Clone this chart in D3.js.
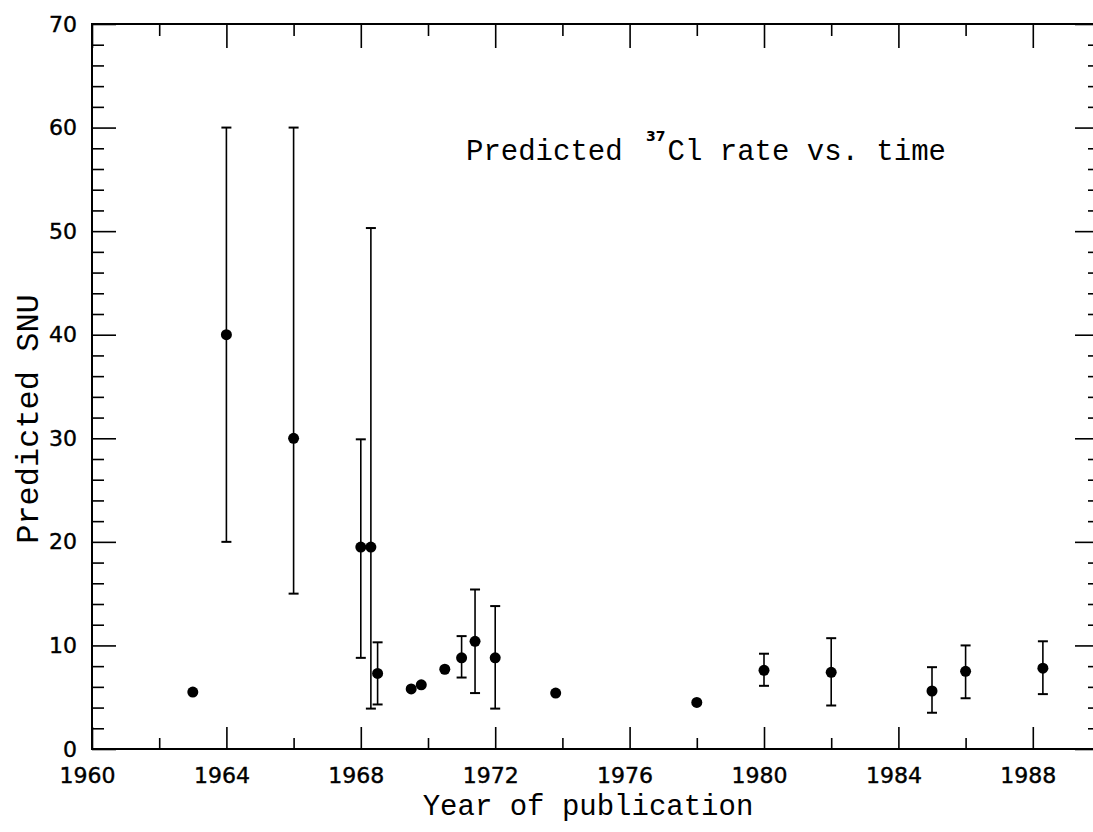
<!DOCTYPE html>
<html>
<head>
<meta charset="utf-8">
<script src="https://cdn.jsdelivr.net/npm/d3@7"></script>
<style>
    body { margin: 0; background: #fff; }
    svg { display: block; }
</style>
</head>
<body>
<div class="snu_chart"></div>
<script>
// publication year of each prediction
var years = [1963.0, 1964.0, 1966.0, 1968.0, 1968.3, 1968.5, 1969.5, 1969.8, 1970.5, 1971.0, 1971.4, 1972.0, 1973.8, 1978.0, 1980.0, 1982.0, 1985.0, 1986.0, 1988.3];
// predicted rate (SNU)
var snu = [5.5, 40, 30, 19.5, 19.5, 7.3, 5.8, 6.2, 7.7, 8.8, 10.4, 8.8, 5.4, 4.5, 7.6, 7.4, 5.6, 7.5, 7.8];
// error bar ends, null where the point has none
var errLow = [null, 20, 15, 8.8, 3.9, 4.3, null, null, null, 6.9, 5.4, 3.9, null, null, 6.1, 4.2, 3.5, 4.9, 5.3];
var errHigh = [null, 60, 60, 29.9, 50.3, 10.3, null, null, null, 10.9, 15.4, 13.8, null, null, 9.2, 10.7, 7.9, 10.0, 10.4];

var xMajor = [1960, 1964, 1968, 1972, 1976, 1980, 1984, 1988];
var xMinor = [1962, 1966, 1970, 1974, 1978, 1982, 1986];
var yMajor = [0, 10, 20, 30, 40, 50, 60, 70];
var yMinor = [2, 4, 6, 8, 12, 14, 16, 18, 22, 24, 26, 28, 32, 34, 36, 38, 42, 44, 46, 48, 52, 54, 56, 58, 62, 64, 66, 68];

var div_width = 1093;
var div_height = 832;
var pLeft = 92, pRight = 1100, pTop = 24, pBottom = 749;

var x = d3.scaleLinear().domain([1960, 1990]).range([pLeft, pRight]);
var y = d3.scaleLinear().domain([0, 70]).range([pBottom, pTop]);

var svg = d3.select(".snu_chart").append("svg")
    .attr("width", div_width)
    .attr("height", div_height);

// frame
svg.append("rect")
    .attr("x", pLeft)
    .attr("y", pTop)
    .attr("width", pRight - pLeft)
    .attr("height", pBottom - pTop)
    .attr("fill", "none")
    .attr("stroke", "#000")
    .attr("stroke-width", 2);

function ticks(axis, vals, size, labels) {
    return axis.tickValues(vals).tickSize(size).tickPadding(labels ? labels : 0)
        .tickFormat(labels ? d3.format("d") : "");
}

function drawAxis(gen, tx, ty) {
    var g = svg.append("g")
        .attr("transform", "translate(" + tx + "," + ty + ")")
        .call(gen);
    g.select(".domain").remove();
    g.selectAll("line").attr("stroke", "#000").attr("stroke-width", 1.6);
    g.selectAll("text")
        .attr("fill", "#000")
        .attr("stroke", "#000")
        .attr("stroke-width", 0.4)
        .style("font-family", "'DejaVu Sans', sans-serif")
        .style("font-size", "22px");
    return g;
}

// bottom / top
var gb = drawAxis(ticks(d3.axisBottom(x), xMajor, -22, 18), 0, pBottom);
gb.selectAll("text").attr("dx", -5);
drawAxis(ticks(d3.axisBottom(x), xMinor, -11), 0, pBottom);
drawAxis(ticks(d3.axisTop(x), xMajor, -24), 0, pTop);
drawAxis(ticks(d3.axisTop(x), xMinor, -12), 0, pTop);

// left / right
drawAxis(ticks(d3.axisLeft(y), yMajor, -24, 15), pLeft, 0);
drawAxis(ticks(d3.axisLeft(y), yMinor, -12), pLeft, 0);
drawAxis(ticks(d3.axisRight(y), yMajor, -25), pRight, 0);
drawAxis(ticks(d3.axisRight(y), yMinor, -12), pRight, 0);

// error bars
var withErr = d3.range(years.length).filter(function (i) { return errLow[i] != null; });
var eb = svg.append("g").attr("stroke", "#000").attr("stroke-width", 1.6);
eb.selectAll("line.bar").data(withErr).enter().append("line")
    .attr("class", "bar")
    .attr("x1", function (i) { return x(years[i]); })
    .attr("x2", function (i) { return x(years[i]); })
    .attr("y1", function (i) { return y(errLow[i]); })
    .attr("y2", function (i) { return y(errHigh[i]); });
eb.selectAll("line.lo").data(withErr).enter().append("line")
    .attr("class", "lo")
    .attr("x1", function (i) { return x(years[i]) - 5; })
    .attr("x2", function (i) { return x(years[i]) + 5; })
    .attr("y1", function (i) { return y(errLow[i]); })
    .attr("y2", function (i) { return y(errLow[i]); })
    .attr("stroke-width", 2);
eb.selectAll("line.hi").data(withErr).enter().append("line")
    .attr("class", "hi")
    .attr("x1", function (i) { return x(years[i]) - 5; })
    .attr("x2", function (i) { return x(years[i]) + 5; })
    .attr("y1", function (i) { return y(errHigh[i]); })
    .attr("y2", function (i) { return y(errHigh[i]); })
    .attr("stroke-width", 2);

// points
svg.append("g").selectAll("circle")
    .data(years)
    .enter().append("circle")
    .attr("cx", function (d) { return x(d); })
    .attr("cy", function (d, i) { return y(snu[i]); })
    .attr("r", 5.5)
    .attr("fill", "#000");

// titles
var mono = "'Liberation Mono', 'Courier New', monospace";

var title = svg.append("text")
    .attr("x", 466)
    .attr("y", 160)
    .style("font-family", mono)
    .style("font-size", "29px")
    .attr("fill", "#000");
title.append("tspan").text("Predicted ");
title.append("tspan")
    .attr("dy", -19)
    .attr("dx", 6)
    .style("font-family", "'DejaVu Sans', sans-serif")
    .style("font-weight", "bold")
    .style("font-size", "14px")
    .text("37");
title.append("tspan")
    .attr("dy", 19)
    .attr("dx", 2)
    .text("Cl rate vs. time");

svg.append("text")
    .attr("x", (pLeft + pRight) / 2 - 8)
    .attr("y", 815)
    .attr("text-anchor", "middle")
    .style("font-family", mono)
    .style("font-size", "29px")
    .attr("fill", "#000")
    .text("Year of publication");

svg.append("text")
    .attr("transform", "translate(38," + 419 + ") rotate(-90)")
    .attr("text-anchor", "middle")
    .style("font-family", mono)
    .style("font-size", "32px")
    .attr("fill", "#000")
    .text("Predicted SNU");
</script>
</body>
</html>
